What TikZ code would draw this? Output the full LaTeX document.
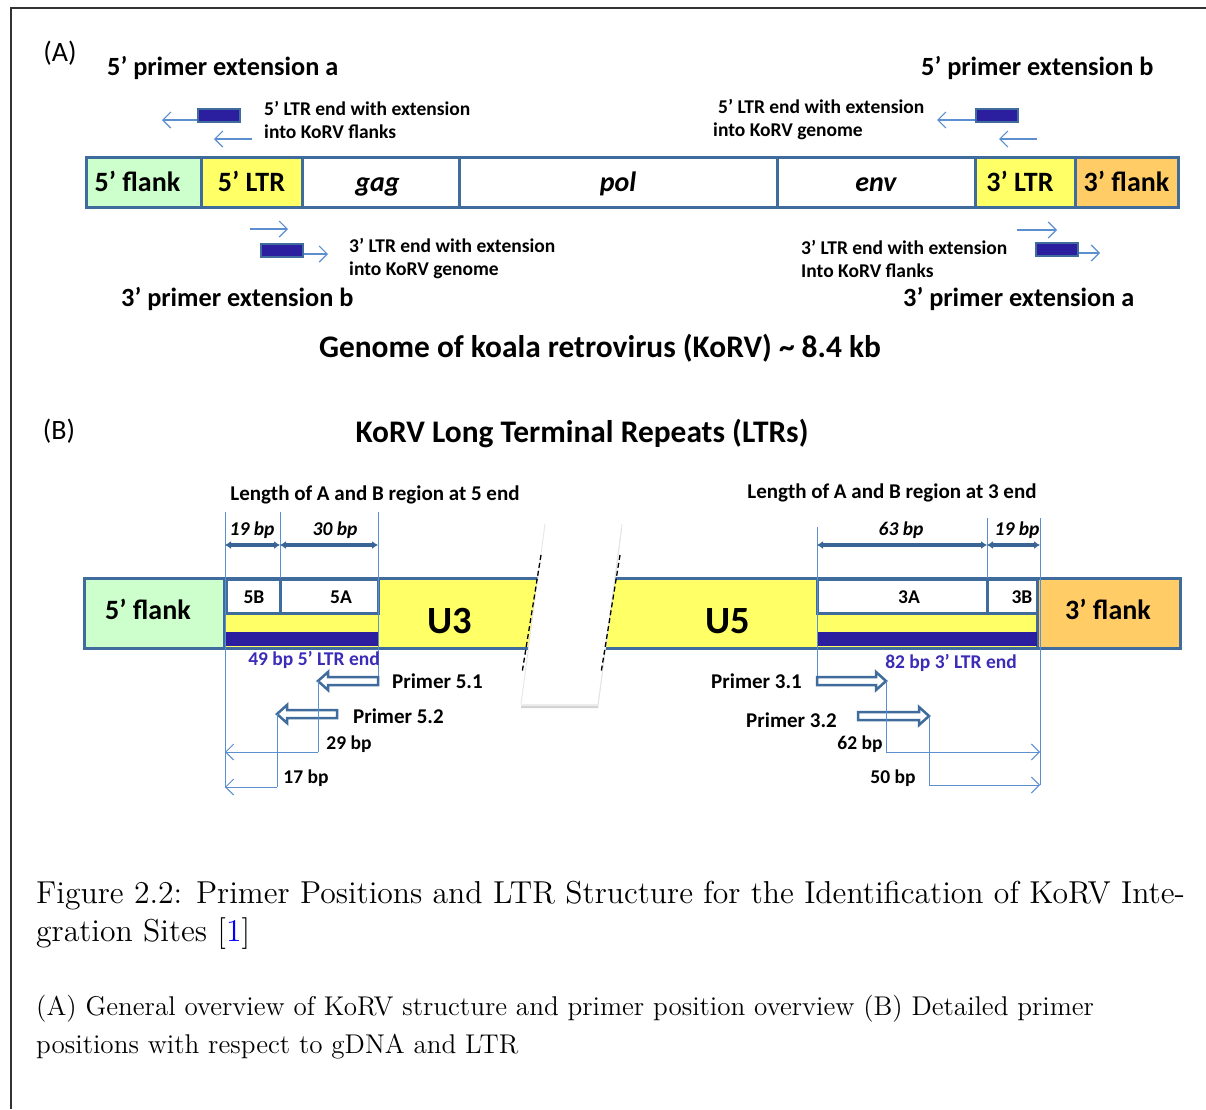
\documentclass[tikz,border=0pt]{standalone}
\usepackage{fontspec}
\newfontfamily\calfont{Carlito}
\newfontfamily\capfont{lmroman12-regular}[Extension=.otf]
\usetikzlibrary{arrows.meta}

\definecolor{segborder}{HTML}{3F6C9C}
\definecolor{flankgreen}{HTML}{CCFFCC}
\definecolor{ltryellow}{HTML}{FFFF66}
\definecolor{flankorange}{HTML}{FFCC66}
\definecolor{primerblue}{HTML}{2B1FA0}
\definecolor{guideblue}{HTML}{5B8FD0}
\definecolor{labelblue}{HTML}{3B2CB8}
\definecolor{dimblue}{HTML}{3B6496}

\tikzset{
  seg/.style={draw=segborder, line width=3pt, inner sep=0pt, outer sep=0pt,
    anchor=north west, text height=20pt, text depth=2pt,
    font=\calfont\bfseries\fontsize{28}{30}\selectfont},
  primerbar/.style={draw=segborder, fill=primerblue, line width=2pt, inner sep=0pt,
    anchor=north west, minimum width=42pt, minimum height=13pt},
  thinarrow/.style={draw=guideblue, line width=1.2pt, -{Straight Barb[length=8pt,width=16pt]}},
  guide/.style={draw=guideblue, line width=1pt},
  dimarrow/.style={draw=dimblue, line width=4pt, {Latex[length=6pt,width=8pt]}-{Latex[length=6pt,width=8pt]}},
  bigtitle/.style={font=\calfont\bfseries\fontsize{31.4}{36}\selectfont, inner sep=0pt},
  subtitle/.style={font=\calfont\bfseries\fontsize{26.3}{30}\selectfont, inner sep=0pt, anchor=west},
  note/.style={font=\calfont\bfseries\fontsize{19.5}{23}\selectfont, inner sep=0pt, anchor=west, align=left},
  small/.style={font=\calfont\bfseries\fontsize{19.5}{22}\selectfont, inner sep=0pt},
  bp/.style={font=\calfont\bfseries\itshape\fontsize{19.5}{22}\selectfont, inner sep=0pt},
  primerlabel/.style={font=\calfont\bfseries\fontsize{21}{24}\selectfont, inner sep=0pt},
  panel/.style={font=\calfont\fontsize{28}{30}\selectfont, inner sep=0pt},
  ubox/.style={font=\calfont\bfseries\fontsize{38.5}{40}\selectfont, inner sep=0pt},
  primerarrow/.style={draw=segborder, fill=white, line width=2.5pt, line join=miter},
  capline/.style={anchor=base west, inner sep=0pt},
}

% hollow block arrow: name, tip x, tail x, y
\newcommand{\hollowarrow}[4]{%
  \pgfmathsetmacro\hsgn{(#3>#2)?1:-1}%
  \draw[primerarrow] (#2,#4) -- ({#2+\hsgn*10},{#4-9}) -- ({#2+\hsgn*10},{#4-4})
    -- (#3,{#4-4}) -- (#3,{#4+4}) -- ({#2+\hsgn*10},{#4+4}) -- ({#2+\hsgn*10},{#4+9}) -- cycle;
  \coordinate (#1-tip) at (#2,#4);
  \coordinate (#1-tail) at (#3,#4);
}

\begin{document}
\begin{tikzpicture}[x=1pt, y=-1pt]
\useasboundingbox (0,0) rectangle (1206,1109);
\fill[white] (0,0) rectangle (1206,1109);

% frame
\draw[line width=1.3pt, black!80] (1206,8) -- (11,8) -- (11,1109);

% ---------------- panel A ----------------
\node[panel] (labA) at (60,53) {(A)};
\node[subtitle] (ext5a) at (107,68) {5’ primer extension a};
\node[subtitle] (ext5b) at (921,68) {5’ primer extension b};
\node[subtitle] (ext3b) at (121,299) {3’ primer extension b};
\node[subtitle] (ext3a) at (903,299) {3’ primer extension a};

% genome bar
\node[seg, fill=flankgreen, minimum width=115pt, minimum height=50pt] (fA5) at (86,157) {5’ flank\hspace*{12pt}};
\node[seg, fill=ltryellow, minimum width=101pt, minimum height=50pt] (lA5) at (201,157) {5’ LTR};
\node[seg, fill=white, minimum width=157pt, minimum height=50pt] (gag) at (302,157) {\itshape gag\hspace*{6pt}};
\node[seg, fill=white, minimum width=318pt, minimum height=50pt] (pol) at (459,157) {\itshape pol};
\node[seg, fill=white, minimum width=198pt, minimum height=50pt] (env) at (777,157) {\itshape env};
\node[seg, fill=ltryellow, minimum width=100pt, minimum height=50pt] (lA3) at (975,157) {3’ LTR\hspace*{10pt}};
\node[seg, fill=flankorange, minimum width=103pt, minimum height=50pt] (fA3) at (1075,157) {3’ flank};

% primers above the bar
\node[primerbar] (pa1) at (197,108) {};
\coordinate (pa1end) at (162,120);
\draw[thinarrow] (pa1.south west |- pa1end) -- (pa1end);
\coordinate (qa1s) at (252,139);
\coordinate (qa1e) at (214,139);
\draw[thinarrow] (qa1s) -- (qa1e);
\node[note] (tA1) at (264,119.5) {5’ LTR end with extension\\into KoRV flanks};

\node[primerbar] (pa2) at (975,108) {};
\coordinate (pa2end) at (937,120);
\draw[thinarrow] (pa2.south west |- pa2end) -- (pa2end);
\coordinate (qa2s) at (1037,139);
\coordinate (qa2e) at (999,139);
\draw[thinarrow] (qa2s) -- (qa2e);
\node[note] (tA2) at (713,119.5) {\hspace*{5pt}5’ LTR end with extension\\into KoRV genome};

% primers below the bar
\coordinate (qb1s) at (250,229);
\coordinate (qb1e) at (288,229);
\draw[thinarrow] (qb1s) -- (qb1e);
\node[primerbar] (pb1) at (260,243) {};
\coordinate (pb1end) at (328,254);
\draw[thinarrow] (pb1.south east |- pb1end) -- (pb1end);
\node[note] (tB1) at (349,258.5) {3’ LTR end with extension\\into KoRV genome};

\coordinate (qb2s) at (1017,230);
\coordinate (qb2e) at (1057,230);
\draw[thinarrow] (qb2s) -- (qb2e);
\node[primerbar] (pb2) at (1035,242) {};
\coordinate (pb2end) at (1100,253);
\draw[thinarrow] (pb2.south east |- pb2end) -- (pb2end);
\node[note] (tB2) at (801,258.5) {3’ LTR end with extension\\Into KoRV flanks};

\node[bigtitle] (genome) at (600,348) {Genome of koala retrovirus (KoRV) \textasciitilde\ 8.4 kb};

% ---------------- panel B ----------------
\node[panel] (labB) at (59,431) {(B)};
\node[bigtitle] (ltrtitle) at (582,433) {KoRV Long Terminal Repeats (LTRs)};
\node[primerlabel] (len5) at (375,495) {Length of A and B region at 5 end};
\node[primerlabel] (len3) at (892,493) {Length of A and B region at 3 end};

% LTR bar body
\draw[segborder, line width=3pt, fill=ltryellow] (84,578) rectangle (1180,648);
\node[seg, fill=flankgreen, minimum width=140pt, minimum height=70pt] (fB5) at (84,578) {};
\node[seg, fill=flankorange, minimum width=143pt, minimum height=70pt] (fB3) at (1037,578) {};
\node[seg, fill=white, minimum width=54pt, minimum height=34pt] (b5B) at (226,579) {};
\node[seg, fill=white, minimum width=98pt, minimum height=34pt] (b5A) at (280,579) {};
\node[seg, fill=white, minimum width=170pt, minimum height=34pt] (b3A) at (817,579) {};
\node[seg, fill=white, minimum width=50pt, minimum height=34pt] (b3B) at (987,579) {};
\fill[primerblue] (226,632) rectangle (378,646);
\fill[primerblue] (817,632) rectangle (1037,646);

% break in the bar: a white strip with a soft shadow
\fill[black!18] (545,528) -- (622,528) -- (598,708) -- (521,708) -- cycle;
\fill[black!8] (545,526) -- (622,526) -- (598,706) -- (521,706) -- cycle;
\fill[white] (545,524) -- (622,524) -- (598,704) -- (521,704) -- cycle;
\draw[black!10, line width=0.8pt] (545,524) -- (521,704);
\draw[black!10, line width=0.8pt] (622,524) -- (598,704);
\draw[black, line width=1.3pt, dash pattern=on 5pt off 3pt] (541,555) -- (522,673);
\draw[black, line width=1.3pt, dash pattern=on 5pt off 3pt] (620,555) -- (601,673);

% bar labels
\node[seg, draw=none, anchor=center] (t5f) at (148,610) {5’ flank};
\node[seg, draw=none, anchor=center] (t3f) at (1108,610) {3’ flank};
\node[ubox] (tU3) at (450,621) {U3};
\node[ubox] (tU5) at (728,621) {U5};
\node[small] (t5B) at (254,597) {5B};
\node[small] (t5A) at (341,597) {5A};
\node[small] (t3A) at (909,597) {3A};
\node[small] (t3B) at (1022,597) {3B};

% guide lines
\draw[guide] (225,512) -- (225,788);
\draw[guide] (280,512) -- (280,578);
\draw[guide] (378,512) -- (378,681);
\draw[guide] (817,527) -- (817,681);
\draw[guide] (987,518) -- (987,578);
\draw[guide] (1040,518) -- (1040,785);

% region lengths
\coordinate (d1) at (225,545);
\coordinate (d2) at (280,545);
\coordinate (d3) at (378,545);
\coordinate (d4) at (817,545);
\coordinate (d5) at (987,545);
\coordinate (d6) at (1040,545);
\draw[dimarrow] (d1) -- (d2);
\draw[dimarrow] (d2) -- (d3);
\draw[dimarrow] (d4) -- (d5);
\draw[dimarrow] (d5) -- (d6);
\node[bp] (l19a) at (252,530) {19 bp};
\node[bp] (l30) at (335,530) {30 bp};
\node[bp] (l63) at (901,530) {63 bp};
\node[bp] (l19b) at (1017,530) {19 bp};

\node[small, text=labelblue] (lend5) at (314,660) {49 bp 5’ LTR end};
\node[small, text=labelblue] (lend3) at (951,663) {82 bp 3’ LTR end};

% primers
\hollowarrow{p51}{318}{378}{681}
\hollowarrow{p52}{277}{337}{714}
\hollowarrow{p31}{886}{817}{681}
\hollowarrow{p32}{929}{858}{716}
\node[primerlabel, anchor=west] (tp51) at (392,681) {Primer 5.1};
\node[primerlabel, anchor=west] (tp52) at (353,716) {Primer 5.2};
\node[primerlabel, anchor=east] (tp31) at (802,681) {Primer 3.1};
\node[primerlabel, anchor=east] (tp32) at (837,720) {Primer 3.2};

% distances from primer ends to the LTR ends
\coordinate (c51) at (318,752);
\coordinate (e51) at (225,752);
\draw[guide] (p51-tip) -- (c51);
\draw[thinarrow, line width=1pt] (c51) -- (e51);
\coordinate (c52) at (277,787);
\coordinate (e52) at (225,787);
\draw[guide] (p52-tip) -- (c52);
\draw[thinarrow, line width=1pt] (c52) -- (e52);
\coordinate (c31) at (886,752);
\coordinate (e31) at (1040,752);
\draw[guide] (p31-tip) -- (c31);
\draw[thinarrow, line width=1pt] (c31) -- (e31);
\coordinate (c32) at (929,785);
\coordinate (e32) at (1040,785);
\draw[guide] (p32-tip) -- (c32);
\draw[thinarrow, line width=1pt] (c32) -- (e32);
\node[small] (l29) at (349,744) {29 bp};
\node[small] (l17) at (306,778) {17 bp};
\node[small] (l62) at (860,744) {62 bp};
\node[small] (l50) at (893,778) {50 bp};

% ---------------- caption ----------------
\node[capline, font=\capfont\fontsize{31.7}{38}\selectfont] (cap1) at (36,903)
  {Figure 2.2: Primer Positions and LTR Structure for the Identification of KoRV Inte-};
\node[capline, font=\capfont\fontsize{31.7}{38}\selectfont] (cap2) at (36,941)
  {gration Sites [\textcolor{blue}{1}]};
\node[capline, font=\capfont\fontsize{27.1}{30}\selectfont] (cap3) at (36,1015)
  {(A) General overview of KoRV structure and primer position overview (B) Detailed primer};
\node[capline, font=\capfont\fontsize{27.1}{30}\selectfont] (cap4) at (36,1053)
  {positions with respect to gDNA and LTR};
\end{tikzpicture}
\end{document}
